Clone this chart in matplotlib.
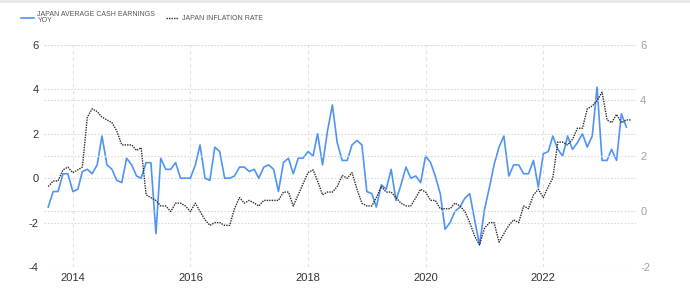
import pandas as pd
import matplotlib
matplotlib.use('Agg')
import matplotlib.pyplot as plt
import matplotlib.dates as mdates
from matplotlib.lines import Line2D

plt.rcParams['font.family'] = ['Liberation Sans', 'DejaVu Sans']
plt.rcParams['axes.unicode_minus'] = False

# monthly data, Aug 2013 onwards
earnings_dates = pd.date_range('2013-08-01', '2023-06-01', freq='MS')
earnings = [
    -1.3, -0.6, -0.6, 0.2, 0.2,
    -0.6, -0.5, 0.3, 0.4, 0.2, 0.6, 1.9, 0.6, 0.4, -0.1, -0.2, 0.9,
    0.6, 0.1, 0.0, 0.7, 0.7, -2.5, 0.9, 0.4, 0.4, 0.7, 0.0, 0.0,
    0.0, 0.6, 1.5, 0.0, -0.1, 1.4, 1.2, 0.0, 0.0, 0.1, 0.5, 0.5,
    0.3, 0.4, 0.0, 0.5, 0.6, 0.4, -0.6, 0.7, 0.9, 0.2, 0.9, 0.9,
    1.2, 1.0, 2.0, 0.6, 2.1, 3.3, 1.6, 0.8, 0.8, 1.5, 1.7, 1.5,
    -0.6, -0.7, -1.3, -0.3, -0.5, 0.4, -1.0, -0.3, 0.5, 0.0, 0.1, -0.2,
    1.0, 0.7, 0.1, -0.7, -2.3, -2.0, -1.5, -1.3, -0.9, -0.7, -1.9, -3.0,
    -1.4, -0.4, 0.6, 1.4, 1.9, 0.1, 0.6, 0.6, 0.2, 0.2, 0.8, -0.4,
    1.1, 1.2, 1.9, 1.3, 1.0, 1.9, 1.3, 1.6, 2.0, 1.4, 1.9, 4.1,
    0.8, 0.8, 1.3, 0.8, 2.9, 2.3,
]

inflation_dates = pd.date_range('2013-08-01', '2023-07-01', freq='MS')
inflation = [
    0.9, 1.1, 1.1, 1.5, 1.6,
    1.4, 1.5, 1.6, 3.4, 3.7, 3.6, 3.4, 3.3, 3.2, 2.9, 2.4, 2.4,
    2.4, 2.2, 2.3, 0.6, 0.5, 0.4, 0.2, 0.2, 0.0, 0.3, 0.3, 0.2,
    0.0, 0.3, 0.0, -0.3, -0.5, -0.4, -0.4, -0.5, -0.5, 0.1, 0.5, 0.3,
    0.4, 0.3, 0.2, 0.4, 0.4, 0.4, 0.4, 0.7, 0.7, 0.2, 0.6, 1.0,
    1.4, 1.5, 1.1, 0.6, 0.7, 0.7, 0.9, 1.3, 1.2, 1.4, 0.8, 0.3,
    0.2, 0.2, 0.5, 0.9, 0.7, 0.7, 0.5, 0.3, 0.2, 0.2, 0.5, 0.8,
    0.7, 0.4, 0.4, 0.1, 0.1, 0.1, 0.3, 0.2, 0.0, -0.4, -0.9, -1.2,
    -0.6, -0.4, -0.4, -1.1, -0.8, -0.5, -0.3, -0.4, 0.2, 0.1, 0.6, 0.8,
    0.5, 0.9, 1.2, 2.5, 2.5, 2.4, 2.6, 3.0, 3.0, 3.7, 3.8, 4.0,
    4.3, 3.3, 3.2, 3.5, 3.2, 3.3, 3.3,
]

left_ticks = [-4, -2, 0, 2, 4, 6]
right_ticks = [-2, 0, 2, 4, 6]
year_ticks = ['2014', '2016', '2018', '2020', '2022']

fig = plt.figure(figsize=(6.9, 2.96), dpi=100)
ax = fig.add_axes([0.0638, 0.098, 0.858, 0.750])
ax2 = ax.twinx()

ax.plot(earnings_dates, earnings, color='#4f94f5', lw=1.2, zorder=3)
ax2.plot(inflation_dates, inflation, color='#2b2b2b', lw=1.0, linestyle=(0, (1, 0.8)), zorder=3)

ax.set_xlim(pd.Timestamp('2013-07-06'), pd.Timestamp('2023-07-31'))
ax.set_ylim(-4, 6)
ax2.set_ylim(-2, 6)
ax.set_yticks(left_ticks)
ax2.set_yticks(right_ticks)
ax.set_xticks([pd.Timestamp(y + '-01-01') for y in year_ticks])
ax.xaxis.set_major_formatter(mdates.DateFormatter('%Y'))

# grid lines
ax.grid(axis='y', color='#dadada', linestyle=(0, (1.5, 1.5)), linewidth=0.8)
ax2.grid(axis='y', color='#dadada', linestyle=(0, (1.5, 1.5)), linewidth=0.8)
ax.grid(axis='x', color='#e2e2e2', linestyle=(0, (3, 3)), linewidth=0.8)
ax.set_axisbelow(True)
ax2.set_axisbelow(True)

for a in (ax, ax2):
    for s in a.spines.values():
        s.set_visible(False)

ax.tick_params(axis='y', length=0, labelsize=8, labelcolor='#333333', pad=4)
ax.tick_params(axis='x', length=0, labelsize=8, labelcolor='#333333', pad=4)
ax2.tick_params(axis='y', length=0, labelsize=8, labelcolor='#a0a0a0', pad=3)

# legend
handles = [Line2D([], [], color='#4f94f5', lw=1.2),
           Line2D([], [], color='#2b2b2b', lw=1.0, linestyle=(0, (1, 0.8)))]
labels = ['JAPAN AVERAGE CASH EARNINGS\nYOY', 'JAPAN INFLATION RATE']
leg = fig.legend(handles, labels, loc='upper left', bbox_to_anchor=(0.022, 0.985),
                 ncol=2, frameon=False, fontsize=5, handlelength=1.8,
                 handletextpad=0.5, columnspacing=1.5, labelspacing=0.1)
for t in leg.get_texts():
    t.set_color('#555555')
    t.set_linespacing(0.9)

fig.add_artist(Line2D([0, 1], [0.997, 0.997], transform=fig.transFigure,
                      color='#e8e8e8', lw=2))

fig.savefig('out.png', dpi=100)
